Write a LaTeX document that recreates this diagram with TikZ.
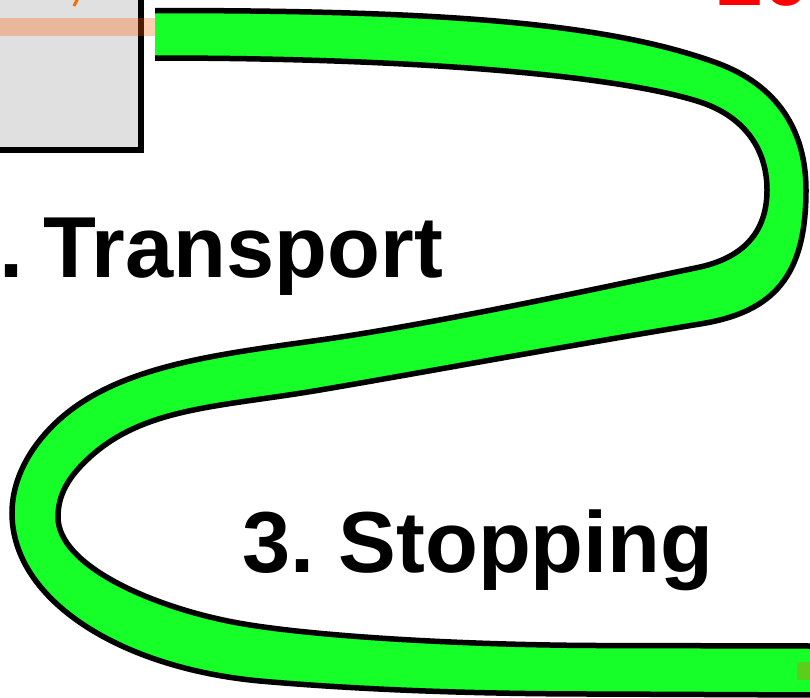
\documentclass[tikz,border=0pt]{standalone}
\usepackage{fontspec}
\setmainfont{Liberation Sans}
\definecolor{tubegreen}{RGB}{22,255,40}
\definecolor{boxgray}{RGB}{224,224,224}
\definecolor{bandorange}{RGB}{255,90,0}
\definecolor{strokeorange}{RGB}{255,106,0}
\tikzset{
  edgeline/.style={line width=5.5pt, black, line cap=butt},
  label/.style={font=\fontsize{86.6}{90}\selectfont\bfseries, inner sep=0pt, anchor=base west},
}
\begin{document}
\begin{tikzpicture}[x=1pt,y=-1pt]
\useasboundingbox (0,0) rectangle (810,697);
\clip (0,0) rectangle (810,697);
\fill[white] (0,0) rectangle (810,697);
% grey box (partly visible)
\draw[fill=boxgray, line width=6pt] (-20,-20) rectangle (141,150);
\draw[strokeorange, line width=3pt] (77.5,-1) -- (74,6);
\fill[bandorange, opacity=0.3] (0,18) rectangle (155,36);
% tube body
\fill[tubegreen] (155,10.5) .. controls (420,10.5) and (600,20) .. (717,63)
  .. controls (777,85) and (806,130) .. (806,190)
  .. controls (806,275) and (775,312) .. (700,324)
  .. controls (560,347) and (420,373) .. (320,390)
  .. controls (220,407) and (145,407) .. (90,457)
  .. controls (68,477) and (58,495) .. (58,517)
  .. controls (58,565) and (150,606) .. (233,622)
  .. controls (300,635) and (450,645) .. (600,645.5)
  -- (815,646)
  -- (815,695) -- (600,694)
  .. controls (450,694) and (340,688) .. (260,681)
  .. controls (120,668) and (12,600) .. (12,513)
  .. controls (12,473) and (37,437) .. (67,413)
  .. controls (127,365) and (220,354) .. (320,340)
  .. controls (430,324.6) and (600,288) .. (700,267)
  .. controls (740,258) and (767,235) .. (767,190)
  .. controls (767,145) and (740,115) .. (700,102)
  .. controls (620,76) and (420,58) .. (155,58) -- cycle;
% tube edges
\draw[edgeline] (155,10.5) .. controls (420,10.5) and (600,20) .. (717,63)
  .. controls (777,85) and (806,130) .. (806,190)
  .. controls (806,275) and (775,312) .. (700,324)
  .. controls (560,347) and (420,373) .. (320,390)
  .. controls (220,407) and (145,407) .. (90,457)
  .. controls (68,477) and (58,495) .. (58,517)
  .. controls (58,565) and (150,606) .. (233,622)
  .. controls (300,635) and (450,645) .. (600,645.5)
  -- (815,646);
\draw[edgeline] (155,58) .. controls (420,58) and (620,76) .. (700,102)
  .. controls (740,115) and (767,145) .. (767,190)
  .. controls (767,235) and (740,258) .. (700,267)
  .. controls (600,288) and (430,324.6) .. (320,340)
  .. controls (220,354) and (127,365) .. (67,413)
  .. controls (37,437) and (12,473) .. (12,513)
  .. controls (12,600) and (120,668) .. (260,681)
  .. controls (340,688) and (450,694) .. (600,694)
  -- (815,695);
\fill[bandorange, opacity=0.3] (797,662) rectangle (812,680);
% labels
\node[label] (transport) at (-49,277) {2.\hspace{-12pt} Transport};
\node[label] (stopping) at (242,572) {3.\hspace{-8pt} Stopping};
\node[label, text=red] (topnum) at (714,5) {10};
\end{tikzpicture}
\end{document}
